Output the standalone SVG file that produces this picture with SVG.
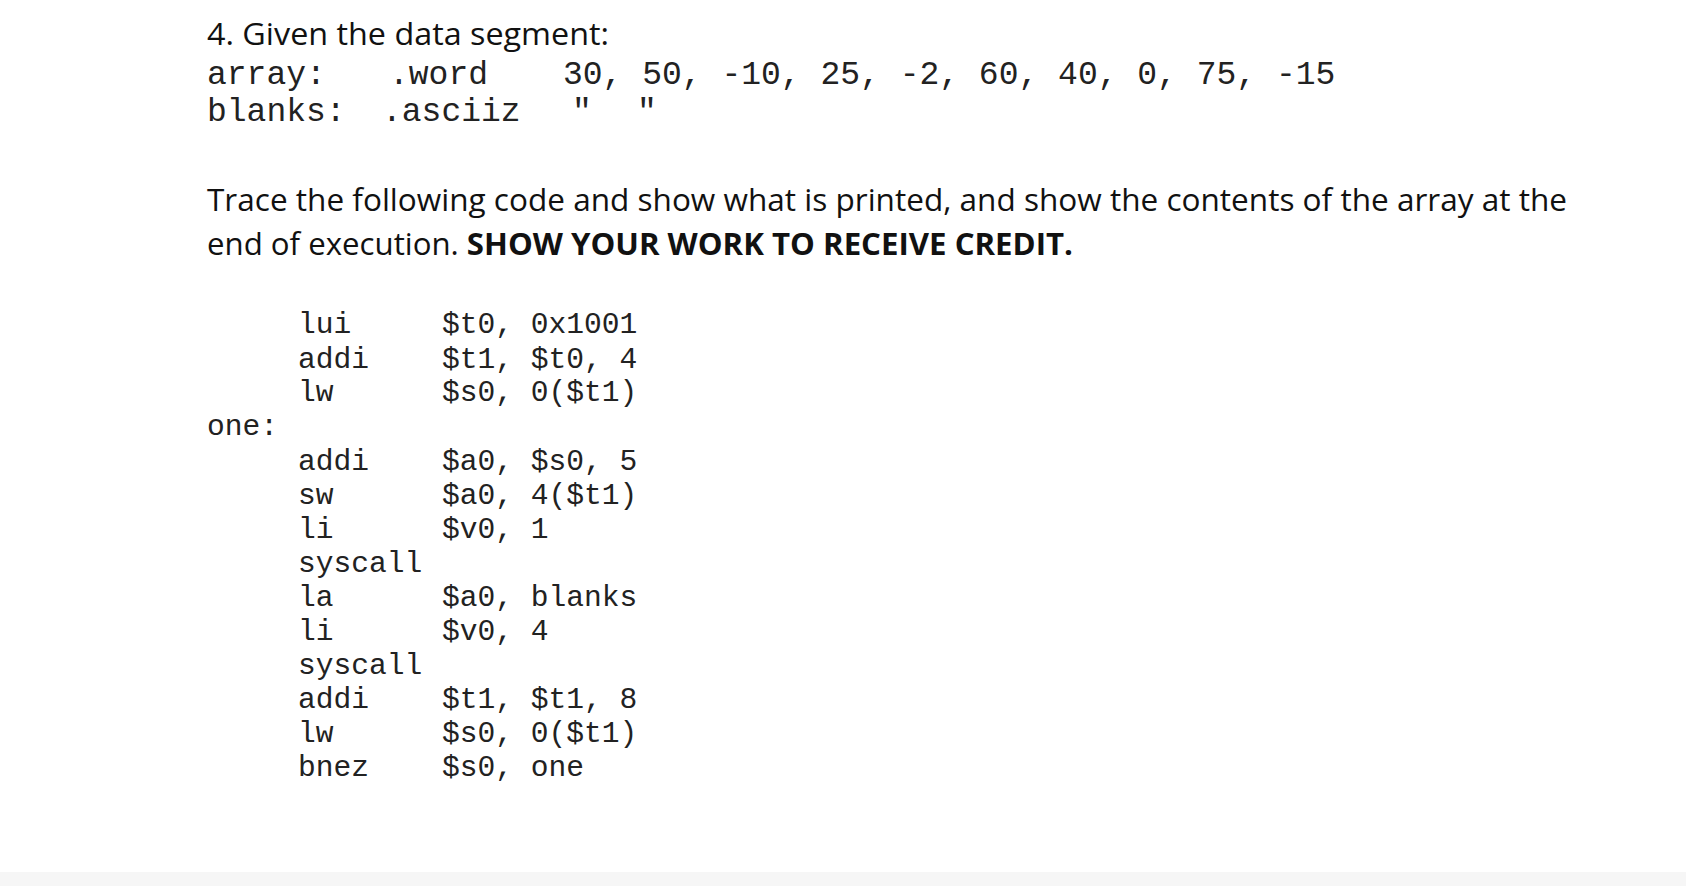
<svg xmlns="http://www.w3.org/2000/svg" width="1686" height="886" viewBox="0 0 1686 886">
<style>
.h{font-family:"Open Sans","Liberation Sans",sans-serif;font-size:31px;fill:#111}
.m{font-family:"Liberation Mono",monospace;font-size:33px;fill:#222}
.c{font-family:"Liberation Mono",monospace;font-size:29.6px;fill:#222}
</style>
<rect width="1686" height="886" fill="#fff"/>
<rect y="872" width="1686" height="14" fill="#f6f6f6"/>
<text class="h" x="207" y="45" textLength="402" lengthAdjust="spacingAndGlyphs">4. Given the data segment:</text>
<text class="m" x="207" y="84">array:</text>
<text class="m" x="389" y="84">.word</text>
<text class="m" x="563" y="84">30, 50, -10, 25, -2, 60, 40, 0, 75, -15</text>
<text class="m" x="207" y="121">blanks:</text>
<text class="m" x="382" y="121">.asciiz</text>
<text class="m" x="572" y="121">"</text>
<text class="m" x="637" y="121">"</text>
<text class="h" x="207" y="211" textLength="1360" lengthAdjust="spacingAndGlyphs">Trace the following code and show what is printed, and show the contents of the array at the</text>
<text class="h" x="207" y="255" textLength="866" lengthAdjust="spacingAndGlyphs">end of execution. <tspan font-weight="bold">SHOW YOUR WORK TO RECEIVE CREDIT.</tspan></text>
<g class="c">
<text x="298" y="333">lui</text><text x="442" y="333">$t0, 0x1001</text>
<text x="298" y="368">addi</text><text x="442" y="368">$t1, $t0, 4</text>
<text x="298" y="401">lw</text><text x="442" y="401">$s0, 0($t1)</text>
<text x="207" y="435">one:</text>
<text x="298" y="470">addi</text><text x="442" y="470">$a0, $s0, 5</text>
<text x="298" y="504">sw</text><text x="442" y="504">$a0, 4($t1)</text>
<text x="298" y="538">li</text><text x="442" y="538">$v0, 1</text>
<text x="298" y="572">syscall</text>
<text x="298" y="606">la</text><text x="442" y="606">$a0, blanks</text>
<text x="298" y="640">li</text><text x="442" y="640">$v0, 4</text>
<text x="298" y="674">syscall</text>
<text x="298" y="708">addi</text><text x="442" y="708">$t1, $t1, 8</text>
<text x="298" y="742">lw</text><text x="442" y="742">$s0, 0($t1)</text>
<text x="298" y="776">bnez</text><text x="442" y="776">$s0, one</text>
</g>
</svg>
